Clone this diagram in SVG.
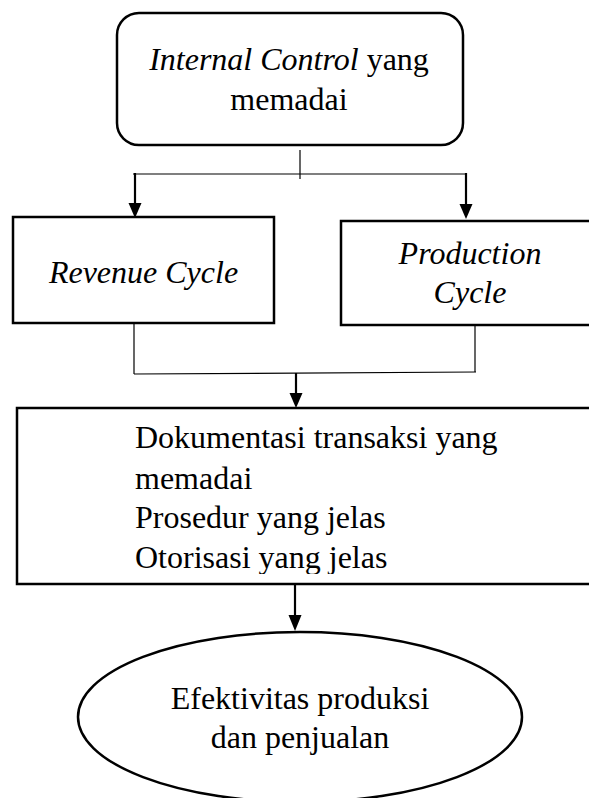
<svg xmlns="http://www.w3.org/2000/svg" width="589" height="798" viewBox="0 0 589 798">
  <style>
    .shape { fill: #ffffff; stroke: #000000; stroke-width: 2.5; }
    .t { font-family: "Liberation Serif", "Times New Roman", serif; font-size: 32px; fill: #000000; }
    .it { font-style: italic; }
    .thin { fill: none; stroke: #000000; stroke-width: 1.2; }
    .thick { fill: none; stroke: #000000; stroke-width: 2.2; }
    .head { fill: #000000; stroke: none; }
  </style>
  <defs>
    <clipPath id="clipDoc">
      <rect x="0" y="400" width="589" height="174"/>
    </clipPath>
  </defs>
  <rect x="0" y="0" width="589" height="798" fill="#ffffff"/>

  <g id="connectors">
    <line class="thin" x1="300" y1="150" x2="300" y2="179"/>
    <line class="thin" x1="133" y1="174" x2="467" y2="174"/>
    <line class="thick" x1="135" y1="173" x2="135" y2="205"/>
    <polygon class="head" points="128.5,203 141.5,203 135,218"/>
    <line class="thick" x1="466" y1="173" x2="466" y2="206"/>
    <polygon class="head" points="459.5,204 472.5,204 466,219"/>

    <line class="thin" x1="134" y1="323" x2="134" y2="374"/>
    <line class="thin" x1="475" y1="325" x2="475" y2="372"/>
    <line class="thin" x1="134" y1="374" x2="476" y2="372"/>
    <line class="thick" x1="296" y1="373" x2="296" y2="395"/>
    <polygon class="head" points="289.5,393 302.5,393 296,408"/>

    <line class="thick" x1="295" y1="584" x2="295" y2="617"/>
    <polygon class="head" points="288.5,615 301.5,615 295,631"/>
  </g>

  <g id="internal-control">
    <rect class="shape" x="117" y="13" width="346" height="132" rx="22" ry="22"/>
    <text class="t" x="289" y="70" text-anchor="middle"><tspan class="it">Internal Control</tspan> yang</text>
    <text class="t" x="289" y="110" text-anchor="middle">memadai</text>
  </g>

  <g id="revenue-cycle">
    <rect class="shape" x="13" y="217" width="261" height="106"/>
    <text class="t it" x="143.5" y="283" text-anchor="middle">Revenue Cycle</text>
  </g>

  <g id="production-cycle">
    <rect class="shape" x="341" y="221" width="260" height="104"/>
    <text class="t it" x="470" y="264" text-anchor="middle">Production</text>
    <text class="t it" x="470" y="303" text-anchor="middle">Cycle</text>
  </g>

  <g id="dokumentasi">
    <rect class="shape" x="17" y="408" width="585" height="176"/>
    <g clip-path="url(#clipDoc)">
      <text class="t" x="135" y="448">Dokumentasi transaksi yang</text>
      <text class="t" x="135" y="489">memadai</text>
      <text class="t" x="135" y="528">Prosedur yang jelas</text>
      <text class="t" x="135" y="568">Otorisasi yang jelas</text>
    </g>
  </g>

  <g id="efektivitas">
    <ellipse class="shape" cx="300" cy="717" rx="222" ry="85"/>
    <text class="t" x="300" y="709" text-anchor="middle">Efektivitas produksi</text>
    <text class="t" x="300" y="748" text-anchor="middle">dan penjualan</text>
  </g>
</svg>
